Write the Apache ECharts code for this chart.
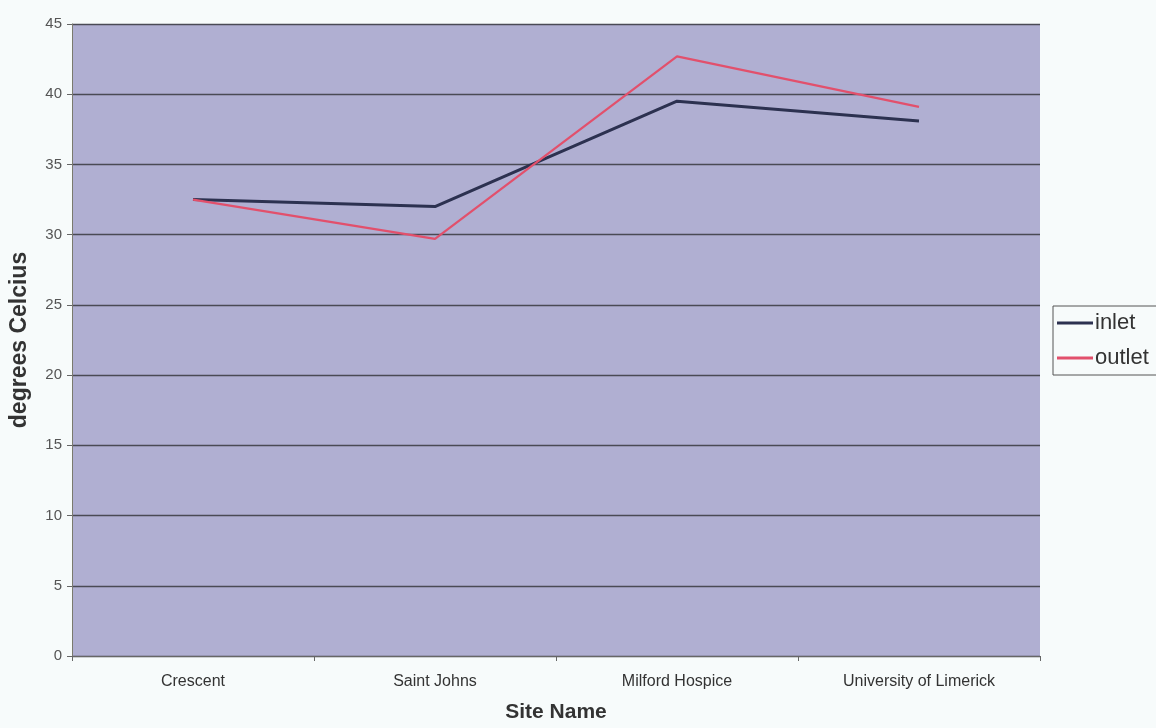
<!DOCTYPE html>
<html>
<head>
<meta charset="utf-8">
<script src="https://cdn.jsdelivr.net/npm/echarts@6/dist/echarts.min.js"></script>
<style>
  html, body { margin: 0; padding: 0; background: #f7fbfb; }
  #chart { width: 1156px; height: 728px; }
</style>
</head>
<body>
<div id="chart"></div>
<script>
// Site names along the x axis
const sites = ['Crescent', 'Saint Johns', 'Milford Hospice', 'University of Limerick'];
// Water temperatures in degrees Celsius
const inletTemps = [32.5, 32.0, 39.5, 38.1];
const outletTemps = [32.5, 29.7, 42.7, 39.1];

const chart = echarts.init(document.getElementById('chart'));
chart.setOption({
  backgroundColor: '#f7fbfb',
  textStyle: { fontFamily: 'Liberation Sans, Arial, sans-serif' },
  grid: {
    left: 72, right: 116, top: 24, bottom: 67,
    show: true, backgroundColor: '#b0afd2', borderWidth: 0
  },
  legend: {
    orient: 'vertical',
    left: 1053, top: 306,
    data: ['inlet', 'outlet'],
    icon: 'rect',
    itemWidth: 36, itemHeight: 3,
    itemGap: 13,
    padding: [6, 12, 6, 4],
    borderColor: '#555',
    borderWidth: 1,
    textStyle: { fontSize: 22, color: '#333', padding: [0, 0, 0, -3] }
  },
  xAxis: {
    type: 'category',
    data: sites,
    boundaryGap: true,
    name: 'Site Name',
    nameLocation: 'middle',
    nameGap: 46,
    nameTextStyle: { fontSize: 21, fontWeight: 'bold', color: '#333' },
    axisLine: { lineStyle: { color: '#666', width: 1 } },
    axisTick: { show: true, length: 5, lineStyle: { color: '#666' } },
    axisLabel: { fontSize: 16, color: '#333', margin: 18 }
  },
  yAxis: {
    type: 'value',
    min: 0, max: 45, interval: 5,
    name: 'degrees Celcius',
    nameLocation: 'middle',
    nameGap: 41,
    nameTextStyle: { fontSize: 23, fontWeight: 'bold', color: '#333' },
    axisLine: { show: true, lineStyle: { color: '#7a7a6e', width: 1 } },
    axisTick: { show: true, length: 5, lineStyle: { color: '#666' } },
    axisLabel: { fontSize: 15, color: '#555', margin: 10 },
    splitLine: { show: true, lineStyle: { color: '#4a4a55', width: 1.3 } }
  },
  series: [
    {
      name: 'inlet',
      type: 'line',
      data: inletTemps,
      symbol: 'none',
      color: '#2c3150',
      lineStyle: { width: 3, color: '#2c3150' },
      z: 3
    },
    {
      name: 'outlet',
      type: 'line',
      data: outletTemps,
      symbol: 'none',
      color: '#e2506c',
      lineStyle: { width: 2.2, color: '#e2506c' },
      z: 4
    }
  ]
});
</script>
</body>
</html>
